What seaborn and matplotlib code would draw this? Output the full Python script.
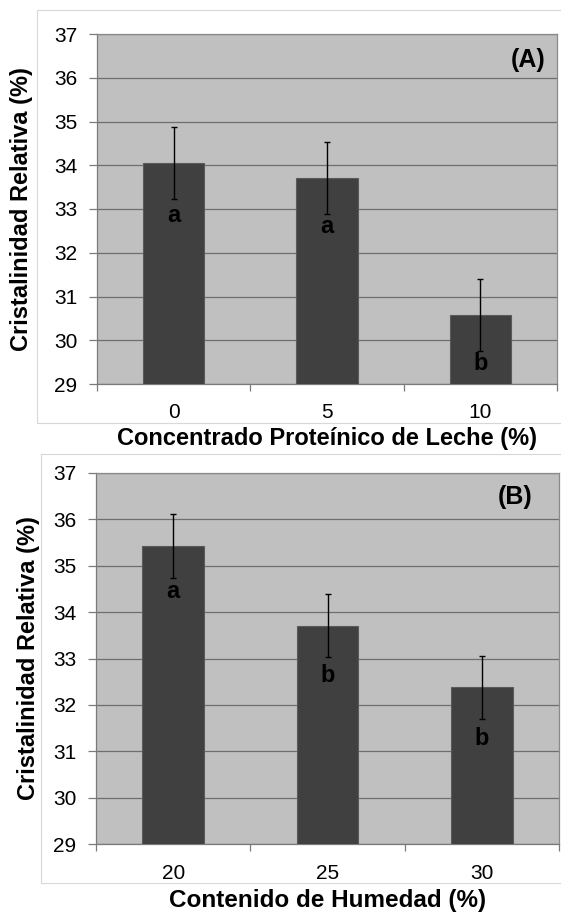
import matplotlib
matplotlib.use("Agg")
import matplotlib.pyplot as plt
import seaborn as sns
import pandas as pd
from matplotlib.patches import Rectangle

# ---- data ----
cats_a = ["0", "5", "10"]
vals_a = [34.05, 33.70, 30.57]
err_a = [0.82, 0.82, 0.82]
letters_a = ["a", "a", "b"]
letter_y_a = [32.86, 32.60, 29.48]

cats_b = ["20", "25", "30"]
vals_b = [35.42, 33.71, 32.38]
err_b = [0.69, 0.68, 0.68]
letters_b = ["a", "b", "b"]
letter_y_b = [34.44, 32.64, 31.28]

xlabel_a = "Concentrado Proteínico de Leche (%)"
xlabel_b = "Contenido de Humedad (%)"
ylabel = "Cristalinidad Relativa (%)"
yticks = [29, 30, 31, 32, 33, 34, 35, 36, 37]

sns.set_theme(style="white")
plt.rcParams["font.family"] = ["Liberation Sans", "DejaVu Sans"]

fig = plt.figure(figsize=(5.61, 9.15), dpi=100)

# faint outer chart frames
fig.add_artist(Rectangle((37 / 561, 1 - 423 / 915), 1.0, (423 - 10) / 915,
                         transform=fig.transFigure, fill=False,
                         edgecolor="#d8d8d8", linewidth=0.8))
fig.add_artist(Rectangle((41 / 561, 1 - 883 / 915), 1.0, (883 - 454) / 915,
                         transform=fig.transFigure, fill=False,
                         edgecolor="#d8d8d8", linewidth=0.8))

ax_a = fig.add_axes([97 / 561, 1 - 384 / 915, 460 / 561, 350 / 915])
ax_b = fig.add_axes([96 / 561, 1 - 844.3 / 915, 463 / 561, 371.6 / 915])


def draw(ax, cats, vals, errs, letters, ly, xlabel, xlab_size, tag, tag_xy,
         lab_pad, ylab_x):
    df = pd.DataFrame({"cat": cats, "val": vals})
    sns.barplot(data=df, x="cat", y="val", ax=ax, color="#404040",
                width=0.4, saturation=1, edgecolor="#5a5a5a", linewidth=0.8,
                errorbar=None, zorder=3)
    ax.errorbar(range(len(cats)), vals, yerr=errs, fmt="none",
                ecolor="black", elinewidth=1.0, capsize=2.5, capthick=1.0,
                zorder=4)
    for i, (t, y) in enumerate(zip(letters, ly)):
        ax.text(i, y, t, ha="center", va="center", fontsize=17,
                fontweight="bold", color="black", zorder=5)
    ax.set_facecolor("#c0c0c0")
    ax.set_ylim(29, 37)
    ax.set_xlim(-0.5, 2.5)
    ax.set_yticks(yticks)
    ax.yaxis.grid(True, color="#6e6e6e", linewidth=0.9, zorder=1)
    ax.set_axisbelow(True)
    for s in ax.spines.values():
        s.set_visible(True)
        s.set_color("#8a8a8a")
        s.set_linewidth(0.9)
    ax.spines["left"].set_color("#7a7a7a")
    ax.spines["bottom"].set_color("#7a7a7a")
    ax.tick_params(axis="y", which="major", length=5.8, width=0.9,
                   color="#7a7a7a", labelsize=15, pad=8.5, left=True,
                   labelcolor="black")
    ax.set_xticks([-0.5, 0.5, 1.5, 2.5], minor=True)
    ax.tick_params(axis="x", which="minor", length=5, width=0.9,
                   color="#7a7a7a", bottom=True)
    ax.tick_params(axis="x", which="major", length=0, labelsize=15,
                   pad=14, labelcolor="black")
    ax.set_xlabel(xlabel, fontsize=xlab_size, fontweight="bold",
                  labelpad=lab_pad, color="black")
    ax.set_ylabel(ylabel, fontsize=17, fontweight="bold", color="black")
    ax.yaxis.set_label_coords(ylab_x, 0.5)
    ax.text(tag_xy[0], tag_xy[1], tag, transform=ax.transAxes, ha="right",
            va="center", fontsize=18, fontweight="bold", color="black",
            zorder=6)


draw(ax_a, cats_a, vals_a, err_a, letters_a, letter_y_a, xlabel_a, 17, "(A)",
     (0.974, 0.926), 3, -0.139)
draw(ax_b, cats_b, vals_b, err_b, letters_b, letter_y_b, xlabel_b, 17.5,
     "(B)", (0.942, 0.935), 4.5, -0.121)

fig.savefig("out.png", dpi=100)
